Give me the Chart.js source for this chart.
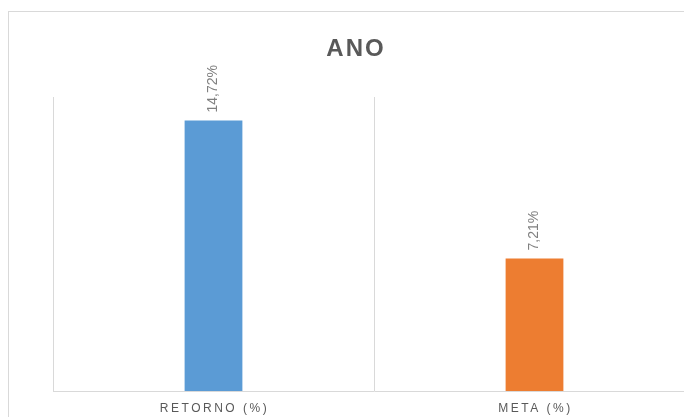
<!DOCTYPE html>
<html>
<head>
<meta charset="utf-8">
<script src="https://cdn.jsdelivr.net/npm/chart.js@4"></script>
<style>
    html, body { margin: 0; padding: 0; background: #fff; overflow: hidden; }
    #box {
        position: absolute; left: 8px; top: 11px;
        width: 692px; height: 420px;
        border: 1px solid #d9d9d9; box-sizing: border-box;
    }
    #wrap { position: absolute; left: 0; top: 0; width: 692px; height: 406px; }
</style>
</head>
<body>
<div id="box"><div id="wrap"><canvas id="anoChart"></canvas></div></div>
<script>
const chartTitle = 'ANO';
const categories = ['RETORNO (%)', 'META (%)'];
const values = [14.72, 7.21];
const barColors = ['#5B9BD5', '#ED7D31'];
const yMax = 16;

// title drawn by hand so it can get letter spacing
const titlePlugin = {
    id: 'titlePlugin',
    afterDraw(chart) {
        const ctx = chart.ctx;
        ctx.save();
        ctx.font = 'bold 24px "Liberation Sans", Arial, sans-serif';
        ctx.fillStyle = '#595959';
        ctx.letterSpacing = '2px';
        ctx.textAlign = 'center';
        ctx.textBaseline = 'middle';
        ctx.fillText(chartTitle, chart.width / 2 + 1, 37);
        ctx.restore();
    }
};

// rotated value labels above each bar
const valueLabels = {
    id: 'valueLabels',
    afterDatasetsDraw(chart) {
        const ctx = chart.ctx;
        const meta = chart.getDatasetMeta(0);
        ctx.save();
        ctx.font = '14px "Liberation Sans", Arial, sans-serif';
        ctx.fillStyle = '#808080';
        ctx.textAlign = 'left';
        ctx.textBaseline = 'middle';
        meta.data.forEach(function(bar, i) {
            const txt = values[i].toFixed(2).replace('.', ',') + '%';
            ctx.save();
            ctx.translate(bar.x, bar.y - 8);
            ctx.rotate(-Math.PI / 2);
            ctx.fillText(txt, 0, 0);
            ctx.restore();
        });
        ctx.restore();
    }
};

// category names with letter spacing, under the axis
const catLabels = {
    id: 'catLabels',
    afterDraw(chart) {
        const ctx = chart.ctx;
        const xs = chart.scales.x;
        ctx.save();
        ctx.font = '12px "Liberation Sans", Arial, sans-serif';
        ctx.fillStyle = '#595959';
        ctx.letterSpacing = '2.5px';
        ctx.textAlign = 'center';
        ctx.textBaseline = 'middle';
        categories.forEach(function(c, i) {
            ctx.fillText(c, xs.getPixelForValue(i) + 1, xs.bottom + 18);
        });
        ctx.restore();
    }
};

const ctx = document.getElementById('anoChart').getContext('2d');
const chart = new Chart(ctx, {
    type: 'bar',
    data: {
        labels: categories,
        datasets: [{
            data: values,
            backgroundColor: barColors,
            borderWidth: 0,
            barPercentage: 0.18,
            categoryPercentage: 1
        }]
    },
    options: {
        responsive: true,
        maintainAspectRatio: false,
        animation: false,
        layout: { padding: { left: 6, right: 6, top: 85, bottom: 27 } },
        plugins: {
            legend: { display: false },
            tooltip: { enabled: false },
            title: { display: false }
        },
        scales: {
            x: {
                grid: { offset: true, color: '#d9d9d9', drawTicks: false },
                border: { color: '#d9d9d9' },
                ticks: { display: false }
            },
            y: {
                min: 0,
                max: yMax,
                grid: { display: false },
                border: { display: false },
                ticks: { display: false },
                afterFit(scale) { scale.width = 38; }
            }
        }
    },
    plugins: [valueLabels, catLabels, titlePlugin]
});
</script>
</body>
</html>
